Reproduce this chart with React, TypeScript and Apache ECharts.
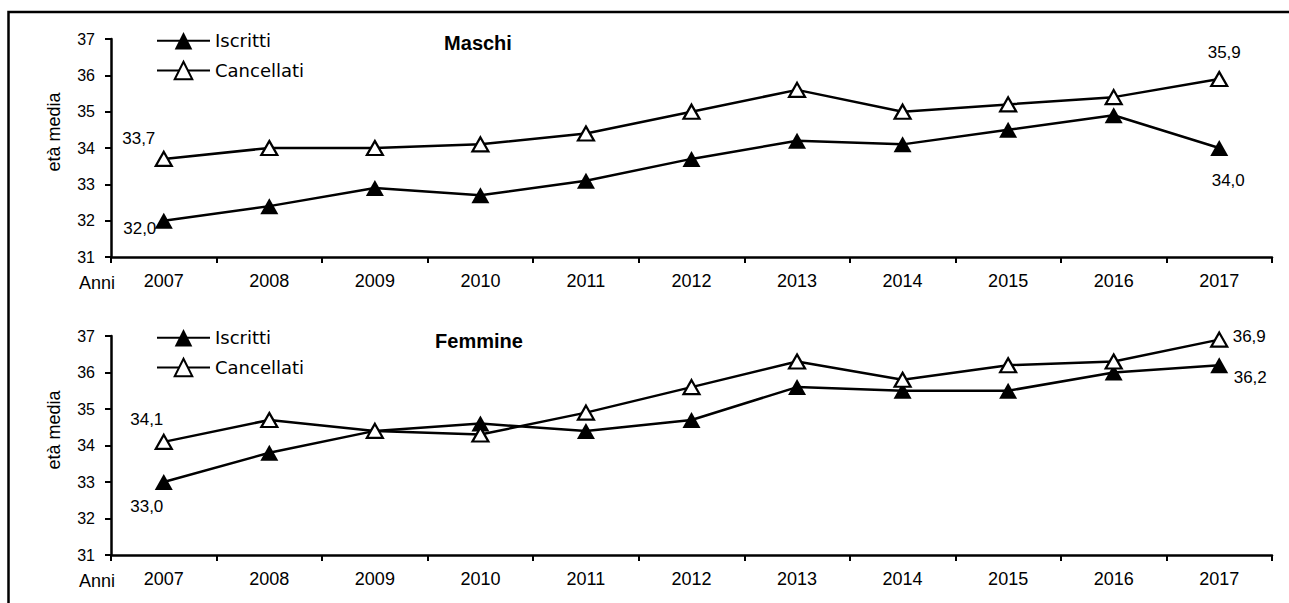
import React, { useEffect, useRef } from "react";
import * as echarts from "echarts";

const years = ["2007", "2008", "2009", "2010", "2011", "2012", "2013", "2014", "2015", "2016", "2017"];
const maschiIscritti = [32.0, 32.4, 32.9, 32.7, 33.1, 33.7, 34.2, 34.1, 34.5, 34.9, 34.0];
const maschiCancellati = [33.7, 34.0, 34.0, 34.1, 34.4, 35.0, 35.6, 35.0, 35.2, 35.4, 35.9];
const femmineIscritti = [33.0, 33.8, 34.4, 34.6, 34.4, 34.7, 35.6, 35.5, 35.5, 36.0, 36.2];
const femmineCancellati = [34.1, 34.7, 34.4, 34.3, 34.9, 35.6, 36.3, 35.8, 36.2, 36.3, 36.9];
const yTicks = { min: 31, max: 37, interval: 1 };
const seriesNames = ["Iscritti", "Cancellati"];
const panelTitles = ["Maschi", "Femmine"];

const FONT = "'Liberation Sans', Arial, sans-serif";

const fmt = (v: number) => v.toFixed(1).replace(".", ",");

function withLabels(values: number[], firstOffset: number[], lastOffset: number[]) {
  return values.map((v, i) => {
    if (i === 0 || i === values.length - 1) {
      return {
        value: v,
        label: {
          show: true,
          position: "inside",
          offset: i === 0 ? firstOffset : lastOffset,
          align: "center",
          verticalAlign: "middle",
          formatter: (p: any) => fmt(p.value),
          color: "#000",
          fontSize: 17,
          fontFamily: FONT,
        },
      };
    }
    return v;
  });
}

export default function App() {
  const ref = useRef<HTMLDivElement>(null);
  useEffect(() => {
    if (!ref.current) return;
    document.body.style.overflow = "hidden";
    const chart = echarts.init(ref.current, undefined, { renderer: "svg" });

    const grids = [
      { left: 111, right: 17, top: 39, height: 218 },
      { left: 111, right: 17, top: 336, height: 219 },
    ];

    const xAxis = grids.map((_, i) => ({
      type: "category",
      gridIndex: i,
      data: years,
      boundaryGap: true,
      axisLine: { lineStyle: { color: "#000", width: 2.5 } },
      axisTick: { show: true, interval: 0, length: 6, lineStyle: { color: "#000", width: 2 } },
      axisLabel: { color: "#000", fontSize: 18, fontFamily: FONT, margin: 15, interval: 0 },
      splitLine: { show: false },
    }));

    const yAxis = grids.map((_, i) => ({
      type: "value",
      gridIndex: i,
      min: yTicks.min,
      max: yTicks.max,
      interval: yTicks.interval,
      axisLine: { show: true, lineStyle: { color: "#000", width: 2.5 } },
      axisTick: { show: true, length: 6, lineStyle: { color: "#000", width: 2 } },
      axisLabel: { color: "#000", fontSize: 16, fontFamily: FONT, margin: 16 },
      splitLine: { show: false },
    }));

    const filled = (name: string, idx: number, data: any[]) => ({
      type: "line",
      name,
      xAxisIndex: idx,
      yAxisIndex: idx,
      data,
      symbol: "triangle",
      symbolSize: [18, 16],
      lineStyle: { color: "#000", width: 2.5 },
      itemStyle: { color: "#000", borderColor: "#000", borderWidth: 0 },
      z: 2,
    });
    const empty = (name: string, idx: number, data: any[]) => ({
      type: "line",
      name,
      xAxisIndex: idx,
      yAxisIndex: idx,
      data,
      symbol: "triangle",
      symbolSize: [16, 14],
      lineStyle: { color: "#000", width: 2.5 },
      itemStyle: { color: "#fff", borderColor: "#000", borderWidth: 2.2 },
      z: 3,
    });

    const legends = [31.7, 328.7].map((top) => ({
      left: 156,
      top,
      orient: "vertical",
      padding: 0,
      itemWidth: 53,
      itemHeight: 22,
      itemGap: 11,
      data: seriesNames,
      textStyle: { color: "#000", fontSize: 18, fontFamily: "'DejaVu Sans', sans-serif" },
      selectedMode: false,
    }));

    chart.setOption({
      animation: false,
      backgroundColor: "#fff",
      grid: grids,
      xAxis,
      yAxis,
      legend: legends,
      series: [
        filled(seriesNames[0], 0, withLabels(maschiIscritti, [-24, 8], [9, 32])),
        empty(seriesNames[1], 0, withLabels(maschiCancellati, [-25, -20], [5, -26])),
        filled(seriesNames[0], 1, withLabels(femmineIscritti, [-17, 24], [31, 12])),
        empty(seriesNames[1], 1, withLabels(femmineCancellati, [-17, -22], [30, -3])),
      ],
      graphic: [
        {
          type: "rect",
          shape: { x: 8.5, y: 12, width: 1400, height: 800 },
          style: { fill: "none", stroke: "#000", lineWidth: 2.5 },
          silent: true,
          z: 10,
        },
        {
          type: "text",
          x: 478,
          y: 43,
          style: { text: panelTitles[0], fill: "#000", font: `bold 20px ${FONT}`, align: "center", verticalAlign: "middle" },
        },
        {
          type: "text",
          x: 479,
          y: 341,
          style: { text: panelTitles[1], fill: "#000", font: `bold 20px ${FONT}`, align: "center", verticalAlign: "middle" },
        },
        {
          type: "text",
          x: 54,
          y: 132,
          rotation: Math.PI / 2,
          style: { text: "età media", fill: "#000", font: `18px ${FONT}`, align: "center", verticalAlign: "middle" },
        },
        {
          type: "text",
          x: 54,
          y: 430,
          rotation: Math.PI / 2,
          style: { text: "età media", fill: "#000", font: `18px ${FONT}`, align: "center", verticalAlign: "middle" },
        },
        {
          type: "text",
          x: 97,
          y: 283,
          style: { text: "Anni", fill: "#000", font: `18px ${FONT}`, align: "center", verticalAlign: "middle" },
        },
        {
          type: "text",
          x: 97,
          y: 581,
          style: { text: "Anni", fill: "#000", font: `18px ${FONT}`, align: "center", verticalAlign: "middle" },
        },
      ],
    });
    return () => chart.dispose();
  }, []);
  return <div ref={ref} style={{ position: "absolute", left: 0, top: 0, width: 1289, height: 603 }} />;
}
